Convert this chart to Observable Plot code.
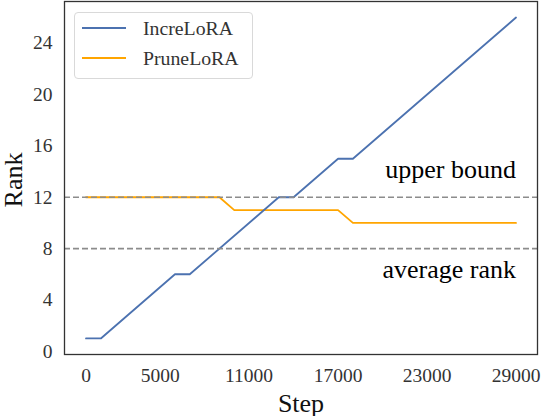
<!DOCTYPE html>
<html>
<head>
<meta charset="utf-8">
<script src="https://cdn.jsdelivr.net/npm/d3@7"></script>
<script src="https://cdn.jsdelivr.net/npm/@observablehq/plot@0.6"></script>
<style>
  body { margin: 0; background: #fff; }
  #wrap { position: relative; width: 542px; height: 416px; font-family: "Liberation Serif", "Times New Roman", serif; }
  .legend { position: absolute; left: 74px; top: 12px; width: 177px; height: 65px; border: 1px solid #d9d9d9; border-radius: 4px; background: rgba(255,255,255,0.85); }
  .item { position: absolute; left: 7px; height: 24px; display: flex; align-items: center; font-size: 19.8px; color: #333; white-space: nowrap; }
  .sw { width: 44px; height: 0; border-top: 2px solid; margin-right: 17px; }
</style>
</head>
<body>
<div id="wrap"></div>
<script>
const incSteps = [0, 1000, 6000, 7000, 13000, 14000, 17000, 18000, 29000];
const incRank  = [1, 1, 6, 6, 12, 12, 15, 15, 26];
const prnSteps = [0, 9000, 10000, 17000, 18000, 29000];
const prnRank  = [12, 12, 11, 11, 10, 10];
const xTicks = [0, 5000, 11000, 17000, 23000, 29000];
const yTicks = [0, 4, 8, 12, 16, 20, 24];
const bounds = [12, 8];
const boundLabels = ["upper bound", "average rank"];
const seriesNames = ["IncreLoRA", "PruneLoRA"];
const seriesColors = ["#4c72b0", "#ffa500"];

const inc = incSteps.map((s, i) => ({step: s, rank: incRank[i]}));
const prn = prnSteps.map((s, i) => ({step: s, rank: prnRank[i]}));
const ann = [
  {step: 29000, rank: bounds[0], text: boundLabels[0]},
  {step: 29000, rank: bounds[1], text: boundLabels[1]}
];
const FF = '"Liberation Serif", "Times New Roman", serif';

const chart = Plot.plot({
  width: 542,
  height: 416,
  marginLeft: 64,
  marginRight: 5,
  marginTop: 1,
  marginBottom: 62,
  style: 'font-family: "Liberation Serif", "Times New Roman", serif; background: #fff; overflow: visible;',
  x: {domain: [-1450, 30450]},
  y: {domain: [-0.25, 27.25]},
  marks: [
    Plot.line(prn, {x: "step", y: "rank", stroke: seriesColors[1], strokeWidth: 1.8}),
    Plot.line(inc, {x: "step", y: "rank", stroke: seriesColors[0], strokeWidth: 1.8}),
    Plot.ruleY(bounds, {stroke: "#8c8c8c", strokeWidth: 1.6, strokeDasharray: "6,3"}),
    Plot.text(ann.slice(0, 1), {x: "step", y: "rank", text: "text", textAnchor: "end", lineAnchor: "bottom", dy: -19, fontSize: 26, fill: "#000", fontFamily: FF}),
    Plot.text(ann.slice(1), {x: "step", y: "rank", text: "text", textAnchor: "end", lineAnchor: "bottom", dy: 29, fontSize: 26, fill: "#000", fontFamily: FF}),
    Plot.axisX(xTicks, {tickSize: 0, tickPadding: 14, fontSize: 19.5, label: null, color: "#333", tickFormat: d => String(d), fontFamily: FF}),
    Plot.axisY(yTicks, {tickSize: 0, tickPadding: 12, fontSize: 19.5, label: null, color: "#333", fontFamily: FF}),
    Plot.text(["Step"], {frameAnchor: "bottom", text: d => d, dy: 57, lineAnchor: "bottom", fontSize: 26, fill: "#111", fontFamily: FF}),
    Plot.text(["Rank"], {frameAnchor: "left", text: d => d, dx: -51, dy: 2, rotate: -90, textAnchor: "middle", lineAnchor: "middle", fontSize: 26, fill: "#111", fontFamily: FF}),
    Plot.frame({stroke: "#333", strokeWidth: 1.3})
  ]
});

const wrap = document.getElementById("wrap");
wrap.appendChild(chart);
const lg = document.createElement("div");
lg.className = "legend";
seriesNames.forEach((n, i) => {
  const it = document.createElement("div");
  it.className = "item";
  it.style.top = (3 + i * 30) + "px";
  const sw = document.createElement("span");
  sw.className = "sw";
  sw.style.borderTopColor = seriesColors[i];
  it.appendChild(sw);
  it.appendChild(document.createTextNode(n));
  lg.appendChild(it);
});
wrap.appendChild(lg);
</script>
</body>
</html>
